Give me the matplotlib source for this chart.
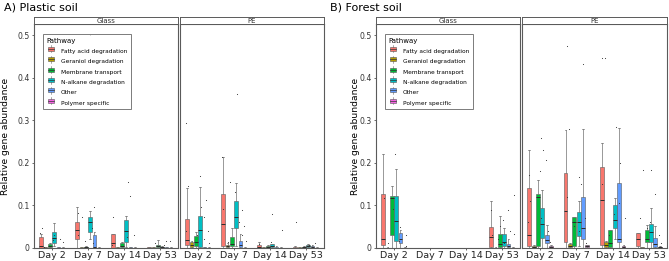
import matplotlib
matplotlib.use("Agg")
import matplotlib.pyplot as plt
from matplotlib.patches import Rectangle
from matplotlib.lines import Line2D
from matplotlib.legend_handler import HandlerBase

DAYS = ["Day 2", "Day 7", "Day 14", "Day 53"]
PATHWAYS = [
    "Fatty acid degradation",
    "Geraniol degradation",
    "Membrane transport",
    "N-alkane degradation",
    "Other",
    "Polymer specific",
]
COLORS = ["#F8766D", "#B79F00", "#00BA38", "#00BFC4", "#619CFF", "#F564E3"]
Y_TICKS = [0, 0.1, 0.2, 0.3, 0.4, 0.5]
Y_TICK_LABELS = ["0", "0.1", "0.2", "0.3", "0.4", "0.5"]

# (whislo, q1, median, q3, whishi) per day, None where there is no box
plastic_glass = {
    "Fatty acid degradation": [(0, 0, 0.003, 0.024, 0.033), (0, 0.019, 0.041, 0.059, 0.096),
                               (0, 0, 0.010, 0.031, 0.031), (0, 0, 0, 0.001, 0.002)],
    "Geraniol degradation": [(0, 0, 0, 0.001, 0.002), (0, 0, 0, 0.001, 0.002),
                             (0, 0, 0, 0.001, 0.002), (0, 0, 0, 0.001, 0.002)],
    "Membrane transport": [(0, 0.001, 0.004, 0.009, 0.010), (0, 0, 0.001, 0.002, 0.004),
                           (0, 0.001, 0.004, 0.010, 0.012), (0, 0.001, 0.003, 0.006, 0.017)],
    "N-alkane degradation": [(0.003, 0.010, 0.023, 0.036, 0.057), (0.019, 0.037, 0.059, 0.073, 0.085),
                             (0.002, 0.012, 0.039, 0.065, 0.074), (0, 0, 0.001, 0.002, 0.004)],
    "Other": [(0, 0, 0, 0.001, 0.002), (0, 0, 0.002, 0.030, 0.037),
              (0, 0, 0, 0.001, 0.002), (0, 0, 0, 0.001, 0.002)],
    "Polymer specific": [(0, 0, 0, 0, 0.001), (0, 0, 0, 0, 0.001),
                         (0, 0, 0, 0, 0.001), (0, 0, 0, 0, 0.001)],
}
plastic_pe = {
    "Fatty acid degradation": [(0, 0.006, 0.018, 0.067, 0.139), (0, 0.004, 0.055, 0.126, 0.212),
                               (0, 0, 0.002, 0.005, 0.012), (0, 0, 0, 0.001, 0.003)],
    "Geraniol degradation": [(0, 0.001, 0.005, 0.014, 0.016), (0, 0.001, 0.003, 0.006, 0.010),
                             (0, 0, 0, 0.001, 0.002), (0, 0, 0, 0.001, 0.002)],
    "Membrane transport": [(0, 0.004, 0.012, 0.027, 0.037), (0, 0.003, 0.008, 0.026, 0.047),
                           (0, 0, 0.001, 0.003, 0.006), (0, 0, 0.001, 0.002, 0.004)],
    "N-alkane degradation": [(0, 0.002, 0.041, 0.074, 0.143), (0.003, 0.047, 0.073, 0.110, 0.153),
                             (0, 0.001, 0.004, 0.008, 0.009), (0, 0.001, 0.003, 0.006, 0.008)],
    "Other": [(0, 0, 0, 0.001, 0.002), (0, 0.001, 0.005, 0.016, 0.033),
              (0, 0, 0, 0.001, 0.003), (0, 0, 0.001, 0.003, 0.005)],
    "Polymer specific": [(0, 0, 0, 0, 0.001), (0, 0, 0, 0, 0.001),
                         (0, 0, 0, 0, 0.001), (0, 0, 0, 0, 0.001)],
}
forest_glass = {
    "Fatty acid degradation": [(0, 0.006, 0.021, 0.125, 0.220), None, None, (0, 0.002, 0.024, 0.049, 0.110)],
    "Geraniol degradation": [(0, 0, 0, 0, 0.001), None, None, (0, 0, 0, 0, 0.001)],
    "Membrane transport": [(0, 0.029, 0.117, 0.121, 0.145), None, None, (0, 0.002, 0.008, 0.031, 0.074)],
    "N-alkane degradation": [(0, 0.016, 0.062, 0.121, 0.184), None, None, (0, 0.003, 0.012, 0.033, 0.047)],
    "Other": [(0, 0.010, 0.020, 0.035, 0.041), None, None, (0, 0.001, 0.004, 0.008, 0.020)],
    "Polymer specific": [(0, 0, 0, 0, 0.001), None, None, (0, 0, 0, 0, 0.001)],
}
forest_pe = {
    "Fatty acid degradation": [(0, 0.004, 0.029, 0.139, 0.229), (0, 0.014, 0.086, 0.176, 0.276),
                               (0, 0.006, 0.112, 0.190, 0.247), (0, 0.003, 0.020, 0.035, 0.035)],
    "Geraniol degradation": [(0, 0, 0.001, 0.003, 0.005), (0, 0.001, 0.003, 0.008, 0.010),
                             (0, 0.002, 0.005, 0.012, 0.015), (0, 0, 0, 0.001, 0.002)],
    "Membrane transport": [(0, 0.003, 0.120, 0.125, 0.159), (0, 0.004, 0.061, 0.071, 0.071),
                           (0, 0.002, 0.010, 0.041, 0.041), (0, 0.014, 0.020, 0.041, 0.053)],
    "N-alkane degradation": [(0, 0.023, 0.056, 0.094, 0.135), (0.003, 0.027, 0.061, 0.084, 0.109),
                             (0.020, 0.045, 0.065, 0.099, 0.116), (0, 0.014, 0.037, 0.055, 0.092)],
    "Other": [(0, 0.010, 0.018, 0.029, 0.053), (0, 0.019, 0.045, 0.118, 0.279),
              (0, 0.012, 0.020, 0.153, 0.281), (0, 0.002, 0.008, 0.022, 0.050)],
    "Polymer specific": [(0, 0, 0.002, 0.004, 0.006), (0, 0.001, 0.003, 0.005, 0.006),
                         (0, 0, 0.002, 0.004, 0.005), (0, 0, 0.001, 0.002, 0.004)],
}

# individual samples drawn as dots: (day index, pathway index, value)
plastic_glass_pts = [(0, 0, 0.035), (0, 0, 0.045), (0, 3, 0.030), (0, 4, 0.020), (0, 5, 0.012),
                     (0, 3, 0.018), (0, 2, 0.004), (0, 1, 0.002),
                     (1, 0, 0.082), (1, 3, 0.500), (1, 3, 0.047), (1, 4, 0.096), (1, 2, 0.015),
                     (1, 1, 0.073), (1, 4, 0.010), (1, 0, 0.030),
                     (2, 0, 0.073), (2, 3, 0.154), (2, 4, 0.121), (2, 5, 0.030), (2, 3, 0.025),
                     (2, 0, 0.005), (3, 1, 0.010), (3, 5, 0.015), (3, 3, 0.006), (3, 4, 0.016)]
plastic_pe_pts = [(0, 0, 0.292), (0, 0, 0.145), (0, 3, 0.168), (0, 4, 0.112), (0, 4, 0.073),
                  (0, 5, 0.040), (0, 2, 0.030), (0, 0, 0.040), (0, 3, 0.095), (0, 4, 0.020),
                  (0, 1, 0.006), (0, 5, 0.010),
                  (1, 0, 0.213), (1, 3, 0.361), (1, 2, 0.155), (1, 4, 0.088), (1, 5, 0.050),
                  (1, 4, 0.030), (1, 0, 0.090), (1, 3, 0.130), (1, 1, 0.012), (1, 4, 0.060),
                  (1, 5, 0.015), (2, 3, 0.078), (2, 5, 0.041), (2, 0, 0.008), (2, 3, 0.012),
                  (3, 0, 0.061), (3, 5, 0.010), (3, 3, 0.006)]
forest_glass_pts = [(0, 3, 0.221), (0, 0, 0.116), (0, 4, 0.049), (0, 5, 0.030), (0, 1, 0.010),
                    (0, 0, 0.020), (0, 2, 0.090), (0, 4, 0.015), (0, 5, 0.004),
                    (3, 0, 0.088), (3, 5, 0.124), (3, 4, 0.088), (3, 3, 0.065), (3, 5, 0.033),
                    (3, 2, 0.020), (3, 0, 0.030), (3, 3, 0.010), (3, 4, 0.040), (3, 2, 0.050)]
forest_pe_pts = [(0, 3, 0.257), (0, 3, 0.229), (0, 4, 0.205), (0, 2, 0.180), (0, 0, 0.170),
                 (0, 0, 0.060), (0, 0, 0.110), (0, 3, 0.070), (0, 4, 0.040), (0, 5, 0.012),
                 (1, 0, 0.475), (1, 4, 0.433), (1, 1, 0.278), (1, 3, 0.167), (1, 4, 0.150),
                 (1, 0, 0.120), (1, 2, 0.050), (1, 4, 0.070), (1, 3, 0.040), (1, 5, 0.010),
                 (2, 0, 0.445), (2, 1, 0.445), (2, 3, 0.284), (2, 4, 0.104), (2, 5, 0.069),
                 (2, 0, 0.150), (2, 3, 0.080), (2, 4, 0.200), (2, 2, 0.030),
                 (3, 1, 0.182), (3, 3, 0.182), (3, 0, 0.069), (3, 4, 0.125), (3, 5, 0.030),
                 (3, 2, 0.045), (3, 3, 0.060), (3, 5, 0.010)]

DODGE = 0.12
JITTER = [-0.04, 0.03, -0.015, 0.045, 0.0, -0.03, 0.02]

W, H = 669, 261
fig = plt.figure(figsize=(W / 100, H / 100), dpi=100)
plt.rcParams["font.family"] = "DejaVu Sans"


def px_axes(x0, y0, x1, y1):
    return fig.add_axes([x0 / W, 1 - y1 / H, (x1 - x0) / W, (y1 - y0) / H])


class BoxKey(HandlerBase):
    def create_artists(self, legend, orig, xd, yd, w, h, fontsize, trans):
        c = orig.get_facecolor()
        x0, x1 = xd + w * 0.15, xd + w * 0.85
        v = Line2D([xd + w / 2] * 2, [yd - h * 0.1, yd + h * 1.1], color="#666666", lw=0.4,
                   transform=trans)
        box = Rectangle((x0, yd + h * 0.15), x1 - x0, h * 0.7, facecolor=c,
                        edgecolor="#555555", lw=0.4, transform=trans)
        med = Line2D([x0, x1], [yd + h / 2] * 2, color="#333333", lw=0.5, transform=trans)
        return [v, box, med]


def draw_facet(ax, stats, pts, first):
    for p, name in enumerate(PATHWAYS):
        rows = stats[name]
        bx, pos = [], []
        for d, row in enumerate(rows):
            if row is None:
                continue
            lo, q1, med, q3, hi = row
            bx.append(dict(whislo=lo, q1=q1, med=med, q3=q3, whishi=hi, fliers=[]))
            pos.append(d + (p - 2.5) * DODGE)
        ax.bxp(bx, positions=pos, widths=DODGE * 0.9, capwidths=DODGE * 0.45,
               patch_artist=True, showfliers=False, manage_ticks=False,
               boxprops=dict(facecolor=COLORS[p], edgecolor="#5a5a5a", lw=0.4),
               medianprops=dict(color="#2a2a2a", lw=0.7),
               whiskerprops=dict(color="#707070", lw=0.5),
               capprops=dict(color="#707070", lw=0.5))
    xs = [d + (p - 2.5) * DODGE + JITTER[i % len(JITTER)] for i, (d, p, v) in enumerate(pts)]
    ys = [v for d, p, v in pts]
    ax.scatter(xs, ys, s=0.6, color="#333333", lw=0, zorder=5)

    ax.set_xlim(-0.5, 3.5)
    ax.set_ylim(-0.001, 0.526)
    ax.set_xticks(range(len(DAYS)), DAYS)
    ax.set_yticks(Y_TICKS, Y_TICK_LABELS)
    ax.tick_params(axis="x", length=1.5, width=0.5, pad=1, labelsize=6.8, colors="#222222")
    ax.tick_params(axis="y", length=1.5, width=0.5, pad=1.5, labelsize=5.6, colors="#333333")
    if not first:
        ax.tick_params(axis="y", left=False, labelleft=False)
    for s in ax.spines.values():
        s.set_color("#5a5a5a")
        s.set_linewidth(0.8)


def draw_strip(x0, x1, label):
    sa = px_axes(x0, 17, x1, 24)
    sa.set_xticks([])
    sa.set_yticks([])
    for s in sa.spines.values():
        s.set_color("#5a5a5a")
        s.set_linewidth(0.7)
    sa.text(0.5, 0.45, label, ha="center", va="center", fontsize=5, color="#333333",
            transform=sa.transAxes)


facets = [
    (34, 178, "Glass", plastic_glass, plastic_glass_pts, True),
    (180, 324, "PE", plastic_pe, plastic_pe_pts, False),
    (376, 520, "Glass", forest_glass, forest_glass_pts, True),
    (522, 667, "PE", forest_pe, forest_pe_pts, False),
]

for x0, x1, label, stats, pts, first in facets:
    ax = px_axes(x0, 24, x1, 248)
    draw_facet(ax, stats, pts, first)
    draw_strip(x0, x1, label)
    if first:
        handles = [Rectangle((0, 0), 1, 1, facecolor=c) for c in COLORS]
        leg = ax.legend(handles, PATHWAYS, handler_map={Rectangle: BoxKey()},
                        title="Pathway", loc="upper left", bbox_to_anchor=(0.0625, 0.955),
                        fontsize=4.2, title_fontsize=5, frameon=True, fancybox=False,
                        handlelength=1.6, handleheight=1.2, labelspacing=0.75,
                        handletextpad=0.9, borderpad=0.6, borderaxespad=0)
        leg._legend_box.align = "left"
        leg.get_frame().set_edgecolor("#5a5a5a")
        leg.get_frame().set_linewidth(0.7)

fig.text(4 / W, 1 - 10.5 / H, "A) Plastic soil", fontsize=8, va="baseline", ha="left")
fig.text(330 / W, 1 - 10.5 / H, "B) Forest soil", fontsize=8, va="baseline", ha="left")
fig.text(6 / W, 1 - 136 / H, "Relative gene abundance", rotation=90, fontsize=6.6,
         ha="center", va="center")
fig.text(356 / W, 1 - 136 / H, "Relative gene abundance", rotation=90, fontsize=6.6,
         ha="center", va="center")

fig.savefig("out.png", dpi=100)
